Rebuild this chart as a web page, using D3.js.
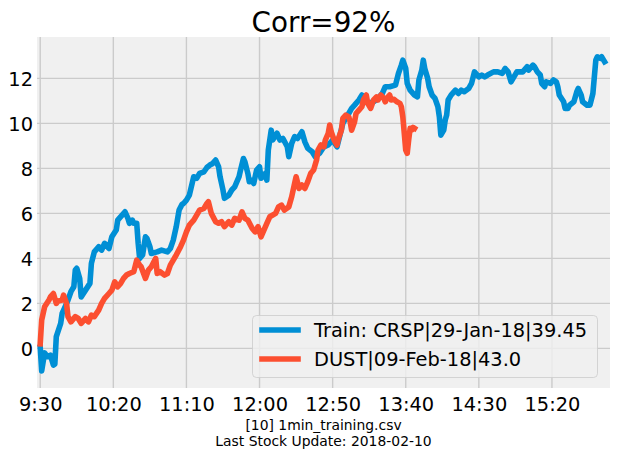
<!DOCTYPE html>
<html>
<head>
<meta charset="utf-8">
<script src="https://cdn.jsdelivr.net/npm/d3@7"></script>
<style>
    body { margin: 0; background: #fff; }
    svg { display: block; font-family: "DejaVu Sans", sans-serif; }
</style>
</head>
<body>
<div id="chart"></div>
<script>
// minutes since 9:30 and the plotted values
const trainMinutes = [0, 1, 3, 5, 7, 9, 10, 11, 14, 15, 17, 19, 21, 23, 24, 25, 27, 28, 31, 34,
    35, 37, 40, 42, 44, 47, 49, 52, 53, 56, 58, 60, 61, 63, 64, 66, 67, 68, 70, 72,
    73, 75, 76, 80, 83, 87, 89, 91, 93, 95, 97, 98, 100, 102, 105, 107, 109, 112, 114, 116,
    118, 120, 122, 123, 125, 126, 129, 131, 133, 136, 137, 139, 140, 142, 143, 145, 146, 148, 150, 151,
    154, 155, 156, 158, 159, 162, 164, 166, 169, 170, 172, 174, 176, 179, 181, 183, 186, 188, 191, 194,
    197, 200, 203, 207, 211, 213, 215, 218, 220, 222, 224, 228, 231, 234, 236, 239, 243, 245, 247, 248,
    250, 251, 253, 256, 258, 259, 261, 262, 263, 265, 266, 268, 270, 272, 273, 274, 276, 277, 278, 279,
    281, 284, 286, 288, 290, 293, 295, 297, 300, 302, 304, 306, 310, 313, 316, 318, 320, 322, 324, 326,
    330, 333, 334, 337, 338, 340, 342, 343, 345, 346, 349, 351, 353, 354, 355, 358, 359, 361, 362, 365,
    367, 368, 370, 371, 374, 376, 378, 379, 380, 381, 383, 384, 386];
const trainValues = [0.05, -1.0, -0.2, -0.37, -0.3, -0.74, -0.7, 0.52, 1.11, 1.56, 1.85, 2.15, 2.52, 2.74, 3.48, 3.56, 3.11, 2.29, 2.59, 2.89,
    3.78, 4.29, 4.52, 4.37, 4.67, 4.44, 4.96, 5.26, 5.7, 5.92, 6.07, 5.78, 5.56, 5.7, 5.56, 5.56, 4.67, 4.0, 4.15, 4.96,
    4.89, 4.52, 4.22, 4.29, 4.37, 4.29, 4.44, 4.81, 5.4, 6.15, 6.4, 6.44, 6.59, 6.81, 7.63, 7.56, 7.78, 7.85, 8.04, 8.15,
    8.22, 8.37, 8.07, 7.63, 7.04, 6.67, 6.81, 7.04, 7.18, 7.63, 7.92, 8.44, 8.29, 7.78, 7.41, 7.48, 7.33, 7.92, 8.07, 7.56,
    7.78, 7.48, 8.81, 9.7, 9.26, 9.56, 9.26, 9.33, 8.96, 8.52, 9.11, 9.41, 9.33, 9.63, 9.18, 8.89, 8.74, 8.52, 8.67, 8.96,
    9.04, 9.26, 8.96, 10.0, 10.44, 10.67, 10.81, 11.04, 11.26, 11.18, 10.89, 10.96, 11.11, 11.33, 11.63, 11.63, 11.7, 12.22, 12.59, 12.81,
    12.44, 11.78, 11.48, 11.26, 11.18, 11.93, 12.37, 12.81, 12.44, 12.0, 11.63, 11.26, 11.11, 10.74, 10.29, 9.48, 9.7, 10.15, 10.37, 11.04,
    11.26, 11.48, 11.33, 11.48, 11.41, 11.55, 11.78, 12.29, 12.07, 12.15, 12.07, 12.15, 12.29, 12.29, 12.22, 12.44, 12.29, 11.85, 12.07, 12.29,
    12.29, 12.52, 12.37, 12.59, 12.52, 12.29, 12.15, 11.78, 11.63, 11.85, 11.78, 11.93, 11.85, 11.63, 11.26, 10.96, 10.67, 10.67, 10.81, 10.96,
    11.41, 11.55, 11.26, 10.96, 10.81, 10.81, 11.33, 12.07, 12.81, 12.96, 12.89, 12.96, 12.74];

const dustMinutes = [0, 1, 3, 6, 7, 9, 11, 12, 15, 16, 18, 19, 21, 24, 26, 28, 31, 33, 35, 37,
    40, 42, 44, 47, 49, 51, 53, 55, 57, 59, 61, 64, 66, 68, 69, 72, 74, 76, 79, 80,
    82, 85, 87, 89, 91, 93, 96, 98, 100, 102, 105, 107, 109, 112, 114, 115, 117, 120, 122, 124,
    126, 129, 131, 133, 136, 138, 140, 142, 145, 147, 149, 151, 153, 155, 157, 161, 163, 165, 167, 170,
    172, 174, 175, 177, 179, 181, 183, 185, 187, 189, 190, 192, 194, 195, 197, 198, 199, 201, 203, 204,
    206, 207, 209, 211, 212, 213, 215, 216, 218, 220, 221, 223, 224, 226, 228, 230, 231, 233, 235, 236,
    237, 239, 240, 242, 244, 246, 247, 248, 249, 250, 251, 252, 253, 254, 255, 256];
const dustValues = [0.2, 1.26, 1.85, 2.15, 2.29, 2.44, 2.0, 2.1, 2.15, 2.37, 2.0, 1.41, 1.18, 1.41, 1.33, 1.11, 1.33, 1.18, 1.48, 1.41,
    1.7, 2.0, 2.22, 2.44, 2.59, 2.96, 2.74, 2.89, 3.11, 3.26, 3.33, 3.41, 3.92, 3.7, 3.63, 3.11, 3.48, 3.63, 4.0, 3.33,
    3.41, 3.26, 3.33, 3.7, 3.92, 4.15, 4.52, 4.81, 5.18, 5.48, 5.7, 5.92, 6.15, 6.22, 6.44, 6.52, 6.0, 5.63, 5.56, 5.63,
    5.41, 5.63, 5.48, 5.78, 5.7, 6.07, 5.78, 5.7, 5.33, 5.18, 5.41, 4.96, 5.26, 5.56, 5.85, 6.0, 6.29, 6.37, 6.15, 6.29,
    6.74, 7.33, 7.63, 7.11, 7.26, 7.11, 7.41, 7.78, 7.93, 8.37, 8.81, 9.04, 8.96, 9.26, 9.56, 9.93, 9.63, 9.26, 9.04, 9.33,
    9.7, 10.22, 10.37, 10.29, 10.07, 9.7, 10.07, 10.44, 10.59, 10.74, 11.04, 11.26, 10.89, 10.67, 11.04, 11.18, 11.04, 11.26, 11.11, 10.96,
    11.11, 11.26, 11.04, 11.07, 10.96, 10.89, 10.74, 10.29, 9.56, 8.81, 8.67, 9.26, 9.78, 9.7, 9.82, 9.78];

const tickMinutes = [0, 50, 100, 150, 200, 250, 300, 350];
const tickLabels = ["9:30", "10:20", "11:10", "12:00", "12:50", "13:40", "14:30", "15:20"];
const yTicks = [0, 2, 4, 6, 8, 10, 12];

const seriesNames = ["Train: CRSP|29-Jan-18|39.45", "DUST|09-Feb-18|43.0"];
const seriesColors = ["#008fd5", "#fc4f30"];
const titleText = "Corr=92%";
const footerLines = ["[10] 1min_training.csv", "Last Stock Update: 2018-02-10"];

class CorrChart {
    constructor(width, height, container) {
        this.width = width;
        this.height = height;
        this.container = container;
    }

    draw() {
        const svg = d3.select(this.container).append("svg")
            .attr("width", this.width)
            .attr("height", this.height);

        const left = 37, right = 610, top = 37, bottom = 388;

        const x = d3.scaleLinear().domain([-2.2, 389.7]).range([left, right]);
        const y = d3.scaleLinear().domain([-1.76, 13.84]).range([bottom, top]);

        svg.append("rect")
            .attr("x", left)
            .attr("y", top)
            .attr("width", right - left)
            .attr("height", bottom - top)
            .attr("fill", "#f0f0f0");

        // grid
        const grid = svg.append("g")
            .attr("stroke", "#cbcbcb")
            .attr("stroke-width", 1.4);
        grid.selectAll(".gx")
            .data(tickMinutes)
            .enter().append("line")
            .attr("x1", d => x(d)).attr("x2", d => x(d))
            .attr("y1", top).attr("y2", bottom);
        grid.selectAll(".gy")
            .data(yTicks)
            .enter().append("line")
            .attr("x1", left).attr("x2", right)
            .attr("y1", d => y(d)).attr("y2", d => y(d));

        // axes (no spines, no tick marks)
        const xAxis = svg.append("g")
            .attr("transform", `translate(0, ${bottom})`)
            .call(d3.axisBottom(x)
                .tickValues(tickMinutes)
                .tickFormat((d, i) => tickLabels[i])
                .tickSize(0)
                .tickPadding(9));
        const yAxis = svg.append("g")
            .attr("transform", `translate(${left}, 0)`)
            .call(d3.axisLeft(y)
                .tickValues(yTicks)
                .tickSize(0)
                .tickPadding(4));
        [xAxis, yAxis].forEach(a => {
            a.select(".domain").remove();
            a.selectAll("text")
                .attr("fill", "#000")
                .style("font-size", "19.4px")
                .style("font-family", "'DejaVu Sans', sans-serif");
        });
        xAxis.selectAll("text").attr("dy", "0.71em");
        yAxis.selectAll("text").attr("dy", "0.36em");

        const line = d3.line()
            .x(d => x(d[0]))
            .y(d => y(d[1]));

        const series = [
            d3.zip(trainMinutes, trainValues),
            d3.zip(dustMinutes, dustValues)
        ];

        svg.append("g")
            .selectAll("path")
            .data(series)
            .enter().append("path")
            .attr("d", line)
            .attr("fill", "none")
            .attr("stroke", (d, i) => seriesColors[i])
            .attr("stroke-width", 5.6)
            .attr("stroke-linejoin", "round")
            .attr("stroke-linecap", "square");

        // title
        svg.append("text")
            .attr("x", (left + right) / 2)
            .attr("y", 32)
            .attr("text-anchor", "middle")
            .style("font-size", "27.8px")
            .text(titleText);

        // legend
        const legend = svg.append("g");
        legend.append("rect")
            .attr("x", 252.5)
            .attr("y", 315.5)
            .attr("width", 345)
            .attr("height", 62)
            .attr("rx", 4)
            .attr("fill", "#f0f0f0")
            .attr("fill-opacity", 0.8)
            .attr("stroke", "#cccccc")
            .attr("stroke-opacity", 0.8)
            .attr("stroke-width", 1);
        const rows = legend.selectAll(".row")
            .data(seriesNames)
            .enter().append("g")
            .attr("transform", (d, i) => `translate(0, ${330 + i * 29})`);
        rows.append("line")
            .attr("x1", 262).attr("x2", 298)
            .attr("stroke", (d, i) => seriesColors[i])
            .attr("stroke-width", 5.6)
            .attr("stroke-linecap", "square");
        rows.append("text")
            .attr("x", 314)
            .attr("dy", "0.36em")
            .style("font-size", "19.4px")
            .text(d => d);

        // footer label
        svg.append("g")
            .selectAll("text")
            .data(footerLines)
            .enter().append("text")
            .attr("x", (left + right) / 2)
            .attr("y", (d, i) => 430 + i * 16)
            .attr("text-anchor", "middle")
            .style("font-size", "13.9px")
            .text(d => d);
    }
}

new CorrChart(617, 458, "#chart").draw();
</script>
</body>
</html>
